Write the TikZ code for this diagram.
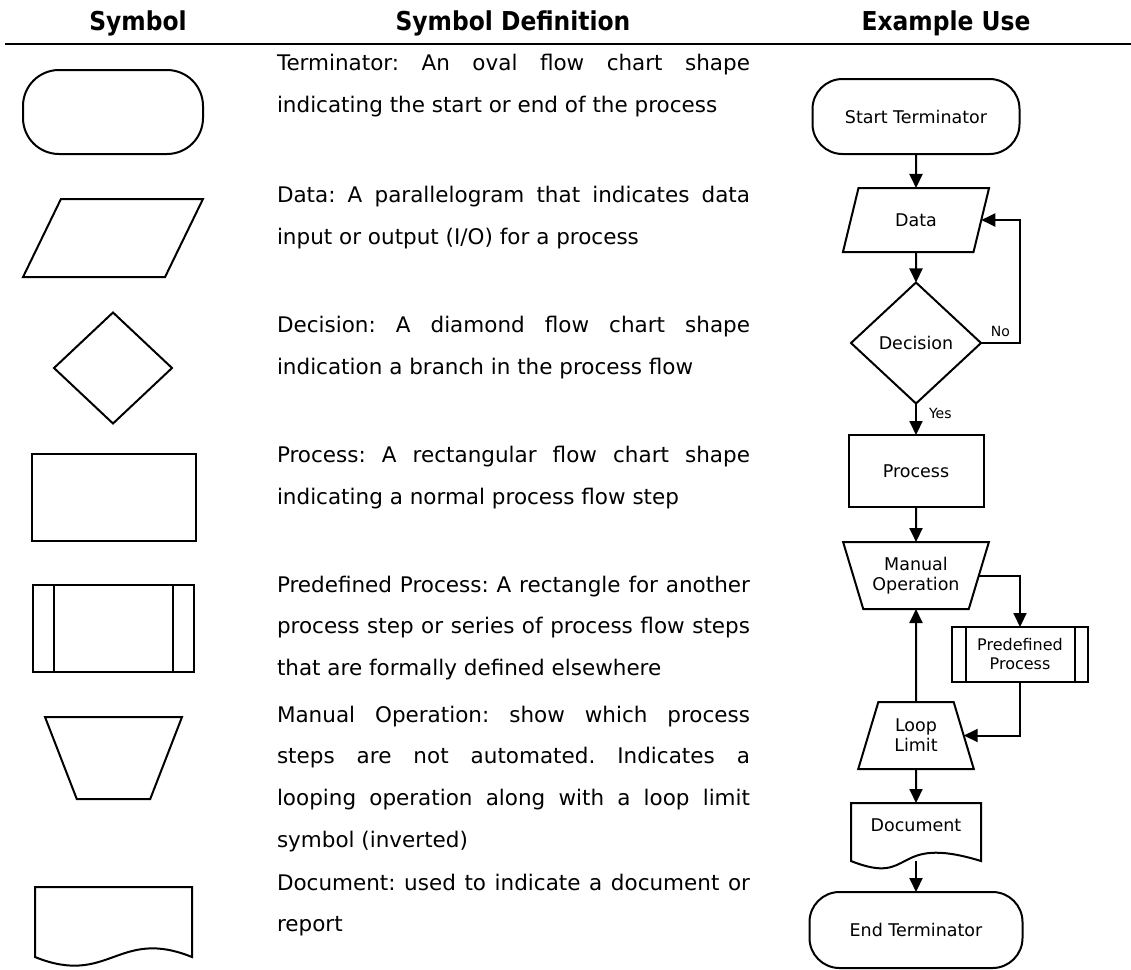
\documentclass[tikz,border=0pt]{standalone}
\usepackage{fontspec}
\setmainfont{DejaVu Sans}
\newfontfamily\headfont{DejaVu Sans}[FakeStretch=0.9]
\usetikzlibrary{arrows.meta, positioning, shapes.geometric}
\newcommand{\deffont}{\fontsize{21.5}{41.7}\selectfont\frenchspacing\hyphenpenalty=10000\relax}

\begin{document}
\begin{tikzpicture}[x=1pt, y=-1pt, line width=2pt,
    every node/.style={inner sep=0pt, outer sep=0pt},
    head/.style={anchor=base, font=\headfont\bfseries\fontsize{26}{30}\selectfont},
    deftext/.style={anchor=north west, text width=473pt, align=justify, font=\deffont},
    chart/.style={draw, inner sep=2pt, align=center, font=\fontsize{17.5}{20}\selectfont},
    termbox/.style={chart, rectangle, rounded corners=30pt},
    databox/.style={chart, trapezium, trapezium stretches=true,
      trapezium left angle=70, trapezium right angle=110},
    decbox/.style={chart, diamond},
    procbox/.style={chart, rectangle},
    manbox/.style={chart, trapezium, trapezium stretches=true,
      trapezium left angle=113, trapezium right angle=113},
    loopbox/.style={chart, trapezium, trapezium stretches=true,
      trapezium left angle=71, trapezium right angle=71},
    docbox/.style={rectangle, align=center, font=\fontsize{17.5}{20}\selectfont},
    lbl/.style={font=\fontsize{14}{16}\selectfont},
    arr/.style={-{Triangle[length=14pt, width=13pt]}},
  ]
  \useasboundingbox (0,0) rectangle (1131,969);

  % table head
  \node[head] (h-sym) at (138,30) {Symbol};
  \node[head] (h-def) at (513,30) {Symbol Definition};
  \node[head] (h-use) at (946,30) {Example Use};
  \draw[line width=1.5pt] (5,44) -- (1131,44);

  % symbol column
  \node[termbox, rounded corners=36pt, minimum width=180pt, minimum height=84pt] (s-term) at (113,112) {};
  \node[databox, minimum width=180pt, minimum height=78pt] (s-data) at (113,238) {};
  \node[decbox, minimum width=118pt, minimum height=111pt] (s-dec) at (113,368) {};
  \node[procbox, minimum width=164pt, minimum height=87pt] (s-proc) at (114,497.5) {};
  \node[procbox, minimum width=161pt, minimum height=87pt] (s-pre) at (113.5,628.5) {};
  \draw ([xshift=21pt]s-pre.north west) -- ([xshift=21pt]s-pre.south west)
        ([xshift=-21pt]s-pre.north east) -- ([xshift=-21pt]s-pre.south east);
  \node[manbox, trapezium left angle=113.4, trapezium right angle=113.4,
    minimum width=137pt, minimum height=82pt] (s-man) at (113.5,758) {};
  \node[docbox, minimum width=157pt, minimum height=70pt] (s-doc) at (113.5,922) {};
  \draw (s-doc.north west) -- (s-doc.north east) -- (s-doc.south east)
    .. controls +(-74,-30) and +(74,30) .. (s-doc.south west) -- cycle;

  % definitions
  \node[deftext] (d-term) at (277,41.8) {\strut Terminator: An oval flow chart shape\linebreak
    indicating the start or end of the process};
  \node[deftext] (d-data) at (277,173.8) {\strut Data: A parallelogram that indicates data\linebreak
    input or output (I/O) for a process};
  \node[deftext] (d-dec) at (277,303.8) {\strut Decision: A diamond flow chart shape\linebreak
    indication a branch in the process flow};
  \node[deftext] (d-proc) at (277,433.8) {\strut Process: A rectangular flow chart shape\linebreak
    indicating a normal process flow step};
  \node[deftext] (d-pre) at (277,562.8) {\strut Predefined Process: A rectangle for another\linebreak
    process step or series of process flow steps\linebreak
    that are formally defined elsewhere};
  \node[deftext] (d-man) at (277,692.8) {\strut Manual Operation: show which process\linebreak
    steps are not automated. Indicates a\linebreak
    looping operation along with a loop limit\linebreak
    symbol (inverted)};
  \node[deftext] (d-doc) at (277,860.8) {\strut Document: used to indicate a document or\linebreak
    report};

  % example flow
  \node[termbox, minimum width=207pt, minimum height=75pt] (start) at (916,116.5) {Start Terminator};
  \node[databox, minimum width=147pt, minimum height=64pt] (data) at (916,220) {Data};
  \node[decbox, minimum width=130pt, minimum height=121pt] (dec) at (916,343) {Decision};
  \node[procbox, minimum width=135pt, minimum height=72pt] (proc) at (916,471) {Process};
  \node[manbox, minimum width=146pt, minimum height=67pt] (man) at (916,575.5) {Manual\\Operation};
  \node[procbox, minimum width=136pt, minimum height=55pt, font=\fontsize{16}{19}\selectfont] (pre) at (1020,654.5) {Predefined\\Process};
  \draw ([xshift=14pt]pre.north west) -- ([xshift=14pt]pre.south west)
        ([xshift=-13pt]pre.north east) -- ([xshift=-13pt]pre.south east);
  \node[loopbox, minimum width=116pt, minimum height=67pt] (loop) at (916,735.5) {Loop\\Limit};
  \node[docbox, minimum width=130pt, minimum height=58pt, text height=13pt, text depth=14pt] (doc) at (916,832) {Document};
  \draw (doc.north west) -- (doc.north east) -- (doc.south east)
    .. controls +(-91,-28) and +(65,26) .. (doc.south west) -- cycle;
  \node[termbox, minimum width=213pt, minimum height=76pt] (end) at (916,930) {End Terminator};

  \draw[arr] (start) -- (data);
  \draw[arr] (data) -- (dec);
  \draw[arr] (dec.east) -- node[lbl, above=6pt] {No} (dec.east -| pre.north) |- (data.east);
  \draw[arr] (dec) -- node[lbl, right=13pt, pos=0.31] {Yes} (proc);
  \draw[arr] (proc) -- (man);
  \draw[arr] (man.east) -| (pre.north);
  \draw[arr] (pre.south) |- (loop.east);
  \draw[arr] (loop) -- (man);
  \draw[arr] (loop) -- (doc);
  \draw[arr] (doc.south) -- (end);
\end{tikzpicture}
\end{document}
